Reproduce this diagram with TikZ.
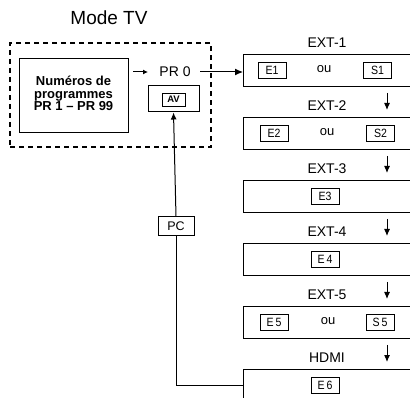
\documentclass[tikz,border=0pt]{standalone}
\usepackage{fontspec}
\setmainfont{Liberation Sans}
\newfontfamily\tagfont[FakeStretch=0.88]{Liberation Sans}
\usetikzlibrary{arrows.meta}
\begin{document}
\begin{tikzpicture}[x=1pt,y=-1pt,
  box/.style={draw, line width=1pt, inner sep=0pt},
  tag/.style={draw, line width=0.9pt, minimum width=28pt, minimum height=16pt, inner sep=0pt, font=\tagfont\fontsize{12}{12}\selectfont},
  extbox/.style={box, minimum width=180pt, minimum height=32pt, anchor=north west},
  lbl/.style={inner sep=0pt, font=\fontsize{14}{14}\selectfont},
  ou/.style={inner sep=0pt, font=\fontsize{13}{13}\selectfont},
  arr/.style={-{Latex[length=7pt,width=6pt]}, line width=1pt},
]
\useasboundingbox (0,0) rectangle (410,398);
\clip (0,0) rectangle (410,398);

% title
\node[inner sep=0pt, font=\fontsize{19}{19}\selectfont] (title) at (109,18) {Mode TV};

% dashed group
\node[draw, dash pattern=on 5pt off 4pt, line width=1.6pt, minimum width=201pt, minimum height=104pt, inner sep=0pt] (group) at (110.5,95) {};
\node[box, minimum width=109pt, minimum height=74pt] (prog) at (73.5,96) {};
\node[inner sep=0pt, align=center, font=\bfseries\fontsize{13}{12.7}\selectfont] (progtxt) at (73.5,93.5) {Numéros de\\programmes\\PR 1 – PR 99};

% PR 0 and AV
\node[lbl] (pr0) at (175,72) {PR 0};
\coordinate (pa) at (133,72);
\coordinate (pb) at (148,72);
\coordinate (pc0) at (200,72);
\draw[-{Latex[length=5pt,width=5pt]}, line width=1pt] (pa) -- (pb);
\node[box, minimum width=51pt, minimum height=26pt] (avbox) at (173.5,99) {};
\node[box, line width=0.9pt, minimum width=23pt, minimum height=13pt, font=\bfseries\fontsize{9.5}{9.5}\selectfont] (av) at (173.5,99.5) {AV};

% EXT boxes
\foreach \i/\name/\lab in {0/ext1/EXT-1, 1/ext2/EXT-2, 2/ext3/EXT-3, 3/ext4/EXT-4, 4/ext5/EXT-5, 5/hdmi/HDMI}{
  \node[extbox] (\name) at (243,{54+63*\i}) {};
  \node[lbl] (\name lab) at (327,{54+63*\i-11}) {\lab};
}
\draw[arr, -{Latex[length=8pt,width=7pt]}] (pc0) -- (ext1.west |- pc0);

% tags
\node[tag] (e1) at (272,70) {E1};
\node[ou] (ou1) at (324,69) {ou};
\node[tag] (s1) at (377.5,70) {S1};

\node[tag] (e2) at (274,133.5) {E2};
\node[ou] (ou2) at (327,132.5) {ou};
\node[tag] (s2) at (380.5,133.5) {S2};

\node[tag] (e3) at (325,196.5) {E3};
\node[tag] (e4) at (325,259.5) {E\,4};

\node[tag] (e5) at (274,322.5) {E\,5};
\node[ou] (ou5) at (328,321.5) {ou};
\node[tag] (s5) at (380,322.5) {S\,5};

\node[tag] (e6) at (325,385) {E\,6};

% down arrows
\coordinate (xa) at (387,0);
\foreach \a/\b in {ext1/ext2, ext2/ext3, ext3/ext4, ext4/ext5, ext5/hdmi}{
  \draw[arr] ([yshift=-6pt]\a.south -| xa) -- ([yshift=7pt]\b.north -| xa);
}

% PC path
\node[box, minimum width=36pt, minimum height=19pt, font=\fontsize{12.5}{12.5}\selectfont] (pc) at (176,226.5) {PC};
\draw[line width=1pt] (hdmi.west) -| (pc.south);
\draw[arr] (pc.north) -- (avbox.south);
\end{tikzpicture}
\end{document}
